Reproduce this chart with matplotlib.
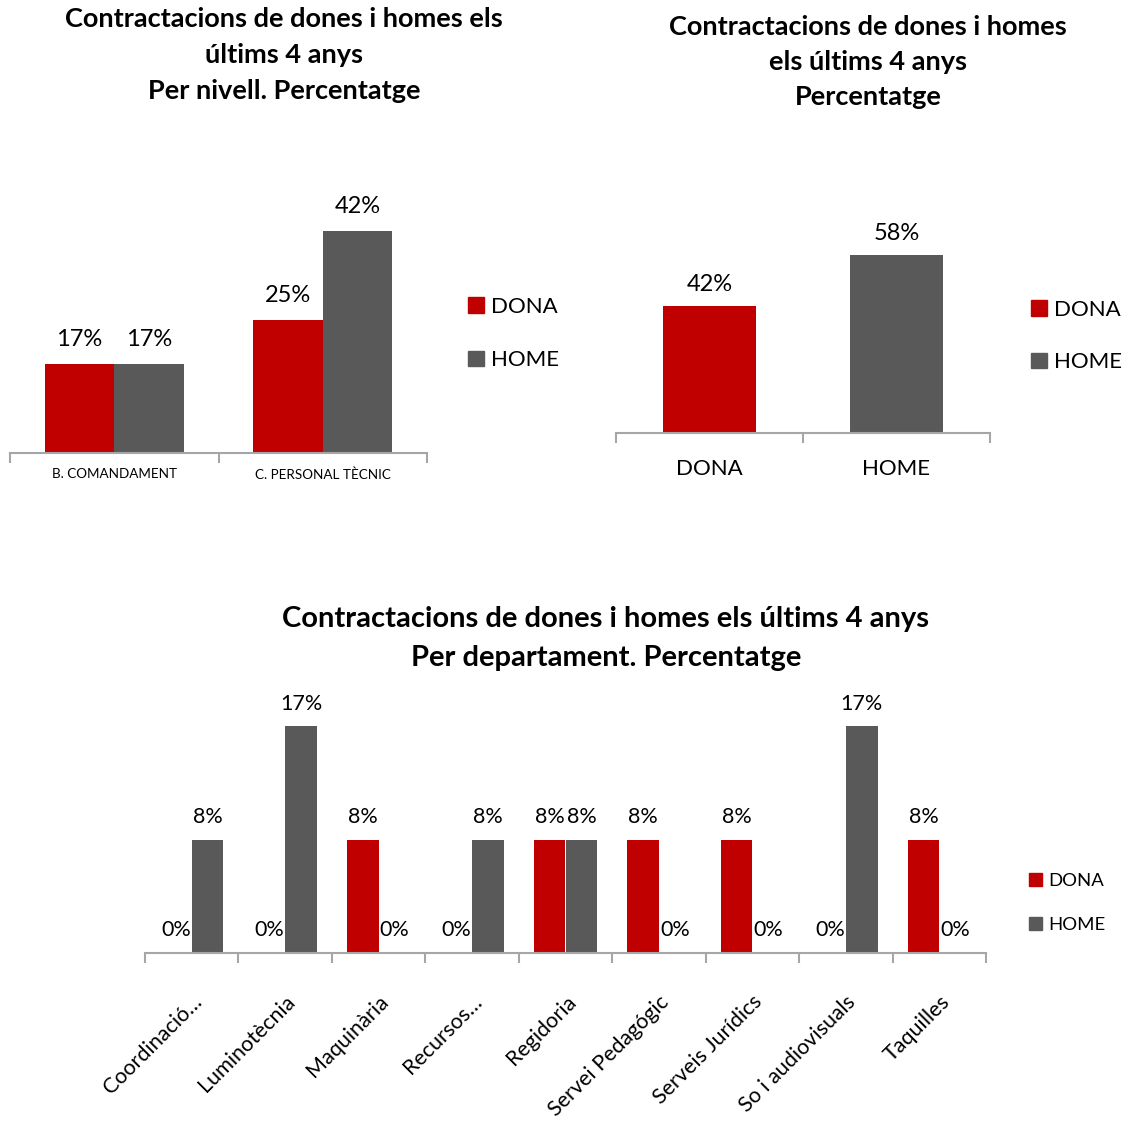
import matplotlib.pyplot as plt
from matplotlib.patches import Patch

plt.rcParams['font.family'] = ['Lato', 'DejaVu Sans']

# ========= Data =========
nivell_cats = ['B. COMANDAMENT', 'C. PERSONAL TÈCNIC']
nivell_dona = [0.1667, 0.25]
nivell_home = [0.1667, 0.4167]

total_cats = ['DONA', 'HOME']
total_vals = [0.4167, 0.5833]

dept_cats = ['Coordinació…', 'Luminotècnia', 'Maquinària', 'Recursos…', 'Regidoria',
             'Servei Pedagógic', 'Serveis Jurídics', 'So i audiovisuals', 'Taquilles']
dept_dona = [0, 0, 0.0833, 0, 0.0833, 0.0833, 0.0833, 0, 0.0833]
dept_home = [0.0833, 0.1667, 0, 0.0833, 0.0833, 0, 0, 0.1667, 0]

RED = '#C00000'
GRAY = '#595959'
AXIS = '#A6A6A6'

W, H = 1127, 1122
fig = plt.figure(figsize=(W / 100, H / 100), dpi=100)


def px_axes(left, top, right, bottom):
    return fig.add_axes([left / W, 1 - bottom / H, (right - left) / W, (bottom - top) / H])


def px_text(x, y, s, **kw):
    fig.text(x / W, 1 - y / H, s, ha='center', va='center', **kw)


def style_axis(ax, n, labelsize, pad):
    for s in ['top', 'right', 'left']:
        ax.spines[s].set_visible(False)
    ax.spines['bottom'].set_color(AXIS)
    ax.spines['bottom'].set_linewidth(1.5)
    ax.set_yticks([])
    ax.set_xlim(-0.5, n - 0.5)
    ax.set_xticks(range(n))
    ax.set_xticks([i - 0.5 for i in range(n + 1)], minor=True)
    ax.tick_params(axis='x', which='major', length=0, labelsize=labelsize, pad=pad)
    ax.tick_params(axis='x', which='minor', length=7, width=1.5, color=AXIS)


def pct(v):
    return f"{round(v * 100):.0f}%"


def add_legend(x, y, fontsize, spacing):
    handles = [Patch(color=RED, label='DONA'), Patch(color=GRAY, label='HOME')]
    fig.legend(handles=handles, loc='upper left', bbox_to_anchor=(x / W, 1 - y / H),
               frameon=False, fontsize=fontsize, handlelength=0.7, handleheight=0.7,
               handletextpad=0.35, labelspacing=spacing, borderpad=0, borderaxespad=0)


# ========= Chart 1: per nivell =========
ax1 = px_axes(10, 213, 427, 453)
bw = 0.333
x = range(len(nivell_cats))
b1 = ax1.bar([i - bw / 2 for i in x], nivell_dona, bw, color=RED)
b2 = ax1.bar([i + bw / 2 for i in x], nivell_home, bw, color=GRAY)
ax1.set_ylim(0, 0.45)
style_axis(ax1, len(nivell_cats), 9.7, 11)
ax1.set_xticklabels(nivell_cats)
for bars, vals in [(b1, nivell_dona), (b2, nivell_home)]:
    ax1.bar_label(bars, labels=[pct(v) for v in vals], padding=10, fontsize=17)
for i, line in enumerate(['Contractacions de dones i homes els', 'últims 4 anys',
                          'Per nivell. Percentatge']):
    px_text(284, 19 + 36 * i, line, fontsize=19.5, fontweight='bold')
add_legend(468, 297, 16, 1.5)

# ========= Chart 2: total =========
ax2 = px_axes(616, 235, 990, 433)
b = ax2.bar(range(len(total_cats)), total_vals, 0.5, color=[RED, GRAY])
ax2.set_ylim(0, 0.65)
style_axis(ax2, len(total_cats), 16, 19)
ax2.set_xticklabels(total_cats)
ax2.bar_label(b, labels=[pct(v) for v in total_vals], padding=8, fontsize=17)
for i, line in enumerate(['Contractacions de dones i homes', 'els últims 4 anys',
                          'Percentatge']):
    px_text(868, 27 + 35 * i, line, fontsize=19.5, fontweight='bold')
add_legend(1031, 300, 16, 1.45)

# ========= Chart 3: per departament =========
ax3 = px_axes(145, 708, 986, 953)
bw = 0.34
x = range(len(dept_cats))
b1 = ax3.bar([i - bw / 2 for i in x], dept_dona, bw, color=RED)
b2 = ax3.bar([i + bw / 2 for i in x], dept_home, bw, color=GRAY)
ax3.set_ylim(0, 0.18)
style_axis(ax3, len(dept_cats), 15.5, 28)
ax3.set_xticklabels(dept_cats, rotation=45, ha='right', rotation_mode='anchor')
for bars, vals in [(b1, dept_dona), (b2, dept_home)]:
    ax3.bar_label(bars, labels=[pct(v) for v in vals], padding=9, fontsize=15.5)
for i, line in enumerate(['Contractacions de dones i homes els últims 4 anys',
                          'Per departament. Percentatge']):
    px_text(606, 619 + 39 * i, line, fontsize=21, fontweight='bold')
add_legend(1029, 873, 13.3, 1.5)

fig.savefig('out.png', dpi=100)
